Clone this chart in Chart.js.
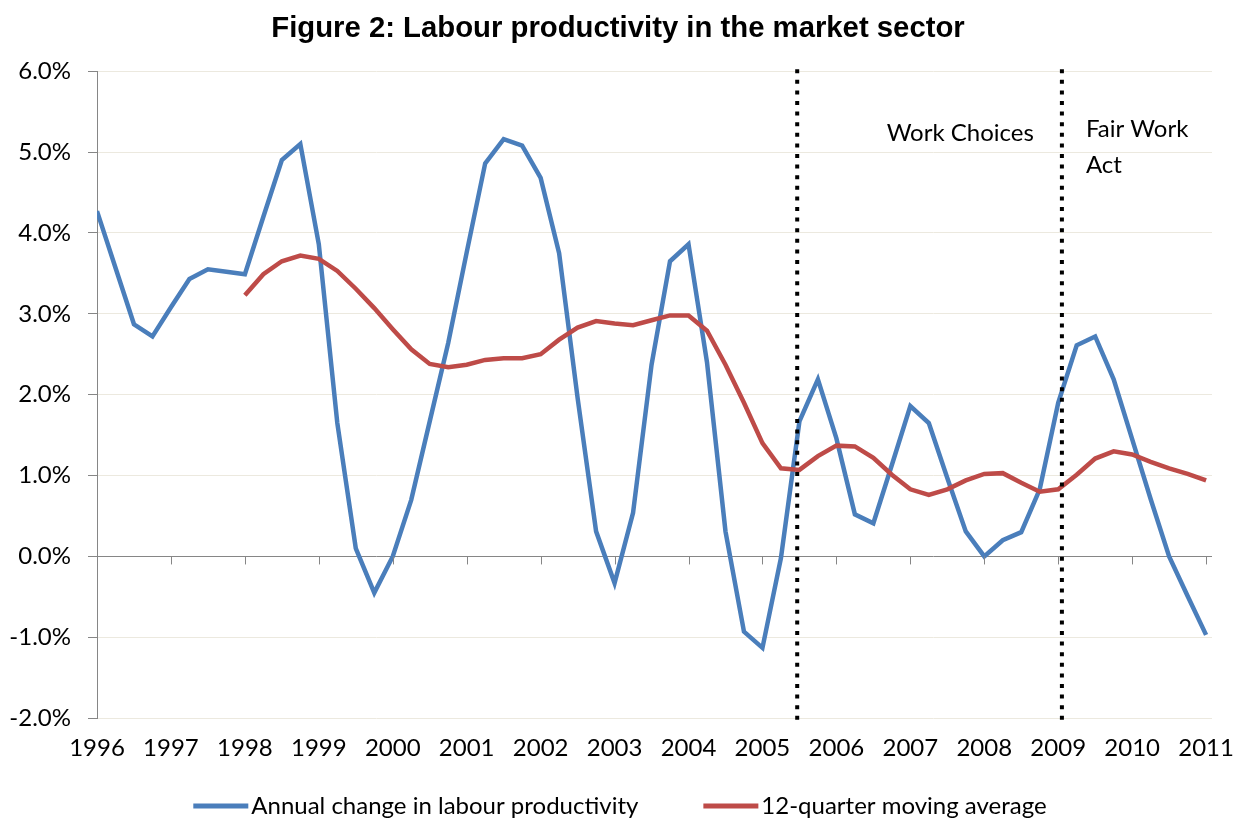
<!DOCTYPE html>
<html>
<head>
<meta charset="utf-8">
<title>Labour productivity in the market sector</title>
<script src="https://cdn.jsdelivr.net/npm/chart.js@4/dist/chart.umd.min.js"></script>
<style>
    html, body { margin: 0; padding: 0; background: #ffffff; }
    #wrap { width: 1246px; height: 822px; }
</style>
</head>
<body>
<div id="wrap"><canvas id="prodChart"></canvas></div>
<script>
// Quarterly series, 1996 Q1 to 2011 Q1 (per cent)
const firstYear = 1996;
const lastYear = 2011;

const annualChange = [
    4.27, 3.57, 2.87, 2.72, 3.08, 3.43, 3.55, 3.52,
    3.49, 4.20, 4.90, 5.10, 3.86, 1.65, 0.10, -0.45,
    0.00, 0.70, 1.67, 2.64, 3.76, 4.86, 5.16, 5.08,
    4.68, 3.75, 1.96, 0.31, -0.33, 0.54, 2.37, 3.65,
    3.86, 2.40, 0.31, -0.93, -1.13, -0.02, 1.67, 2.19,
    1.46, 0.52, 0.41, 1.13, 1.86, 1.65, 0.97, 0.31,
    0.00, 0.20, 0.30, 0.83, 1.90, 2.61, 2.72, 2.19,
    1.45, 0.71, 0.00, -0.49, -0.97
];

// 12-quarter moving average starts in 1998 Q1
const movingAverage = [
    null, null, null, null, null, null, null, null,
    3.23, 3.49, 3.65, 3.72, 3.68, 3.53, 3.31, 3.07,
    2.81, 2.56, 2.38, 2.34, 2.37, 2.43, 2.45, 2.45,
    2.50, 2.68, 2.83, 2.91, 2.88, 2.86, 2.92, 2.98,
    2.98, 2.79, 2.37, 1.90, 1.40, 1.09, 1.07, 1.24,
    1.37, 1.36, 1.22, 1.01, 0.83, 0.76, 0.83, 0.94,
    1.02, 1.03, 0.91, 0.80, 0.83, 1.01, 1.21, 1.30,
    1.26, 1.17, 1.09, 1.02, 0.94
];

// policy start dates (decimal years) and their captions
const policyDates = [2005.47, 2009.05];
const policyNames = [['Work Choices'], ['Fair Work', 'Act']];

const yTicks = [-2, -1, 0, 1, 2, 3, 4, 5, 6];

const blue = '#4A7EBB';
const red = '#BE4B48';
const labelFont = 'Lato, "Open Sans", sans-serif';

const quarterX = annualChange.map((_, i) => firstYear + i / 4);
const toPoints = arr => arr.map((v, i) => ({ x: quarterX[i], y: v }));

const policyDatasets = policyDates.map(d => ({
    label: '',
    data: [{ x: d, y: yTicks[0] - 0.02 }, { x: d, y: yTicks[yTicks.length - 1] + 0.06 }],
    borderColor: '#000000',
    borderWidth: 4,
    borderDash: [4, 6.6],
    borderCapStyle: 'butt',
    pointRadius: 0,
    clip: false,
    order: 0
}));

// zero line tick marks, policy captions and the legend row
const extras = {
    id: 'extras',
    afterDatasetsDraw(chart) {
        const { ctx, scales: { x, y } } = chart;
        const zeroY = y.getPixelForValue(0);
        ctx.save();
        ctx.strokeStyle = '#868686';
        ctx.lineWidth = 1;
        x.ticks.forEach(t => {
            const px = Math.round(x.getPixelForValue(t.value)) + 0.5;
            ctx.beginPath();
            ctx.moveTo(px, zeroY);
            ctx.lineTo(px, zeroY + 8);
            ctx.stroke();
        });

        ctx.fillStyle = '#000000';
        ctx.font = '24px ' + labelFont;
        ctx.textBaseline = 'alphabetic';
        const fairX = x.getPixelForValue(policyDates[1]);
        ctx.textAlign = 'right';
        ctx.fillText(policyNames[0][0], fairX - 28, y.getPixelForValue(5.14));
        ctx.textAlign = 'left';
        policyNames[1].forEach((line, i) => {
            ctx.fillText(line, fairX + 24, y.getPixelForValue(5.18 - i * 0.44));
        });
        ctx.restore();
    },
    afterDraw(chart) {
        const { ctx } = chart;
        const items = chart.data.datasets.slice(0, 2);
        const sample = 55, gap = 3, itemGap = 65;
        ctx.save();
        ctx.font = '24px ' + labelFont;
        const widths = items.map(ds => ctx.measureText(ds.label).width);
        const total = widths.reduce((s, w) => s + sample + gap + w, 0) + itemGap * (items.length - 1);
        let cx = chart.width / 2 - 3 - total / 2;
        const cy = chart.height - 16;
        ctx.textBaseline = 'middle';
        ctx.textAlign = 'left';
        items.forEach((ds, i) => {
            ctx.fillStyle = ds.borderColor;
            ctx.fillRect(cx, cy - 2.5, sample, 5);
            ctx.fillStyle = '#000000';
            ctx.fillText(ds.label, cx + sample + gap, cy);
            cx += sample + gap + widths[i] + itemGap;
        });
        ctx.restore();
    }
};

new Chart(document.getElementById('prodChart'), {
    type: 'line',
    data: {
        datasets: [
            {
                label: 'Annual change in labour productivity',
                data: toPoints(annualChange),
                borderColor: blue,
                backgroundColor: blue,
                borderWidth: 4.5,
                pointRadius: 0,
                tension: 0,
                order: 2
            },
            {
                label: '12-quarter moving average',
                data: toPoints(movingAverage),
                borderColor: red,
                backgroundColor: red,
                borderWidth: 4.5,
                pointRadius: 0,
                tension: 0,
                spanGaps: false,
                order: 1
            },
            ...policyDatasets
        ]
    },
    options: {
        responsive: true,
        maintainAspectRatio: false,
        animation: false,
        layout: {
            padding: { left: 0, right: 10, top: 0, bottom: 59 }
        },
        plugins: {
            title: {
                display: true,
                text: 'Figure 2: Labour productivity in the market sector',
                color: '#000000',
                font: { family: '"Liberation Sans", Arial, sans-serif', size: 29.3, weight: 'bold' },
                padding: { top: 11, bottom: 25 }
            },
            legend: { display: false },
            tooltip: { enabled: false }
        },
        scales: {
            x: {
                type: 'linear',
                min: firstYear,
                max: lastYear + 0.08,
                // invisible tick marks give the gap above the year labels
                grid: { display: true, drawOnChartArea: false, drawTicks: true, tickLength: 16, tickColor: 'rgba(0,0,0,0)' },
                border: { display: false },
                ticks: {
                    stepSize: 1,
                    includeBounds: false,
                    autoSkip: false,
                    maxRotation: 0,
                    padding: 0,
                    color: '#000000',
                    font: { family: labelFont, size: 24 },
                    callback: v => Number.isInteger(v) ? String(v) : null
                }
            },
            y: {
                min: yTicks[0],
                max: yTicks[yTicks.length - 1],
                afterFit: scale => { scale.width = 97; },
                grid: {
                    color: c => c.tick && c.tick.value === 0 ? '#868686' : '#ECE9DF',
                    lineWidth: 1,
                    tickColor: '#868686',
                    tickLength: 9
                },
                border: { color: '#868686', width: 1 },
                ticks: {
                    stepSize: 1,
                    padding: 17,
                    color: '#000000',
                    font: { family: labelFont, size: 24 },
                    callback: v => v.toFixed(1) + '%'
                }
            },
            // empty right-hand margin so the plot stops short of the last year label
            yRight: {
                position: 'right',
                afterFit: scale => { scale.width = 24; },
                grid: { display: false, drawTicks: false },
                border: { display: false },
                ticks: { display: false }
            }
        }
    },
    plugins: [extras]
});
</script>
</body>
</html>
